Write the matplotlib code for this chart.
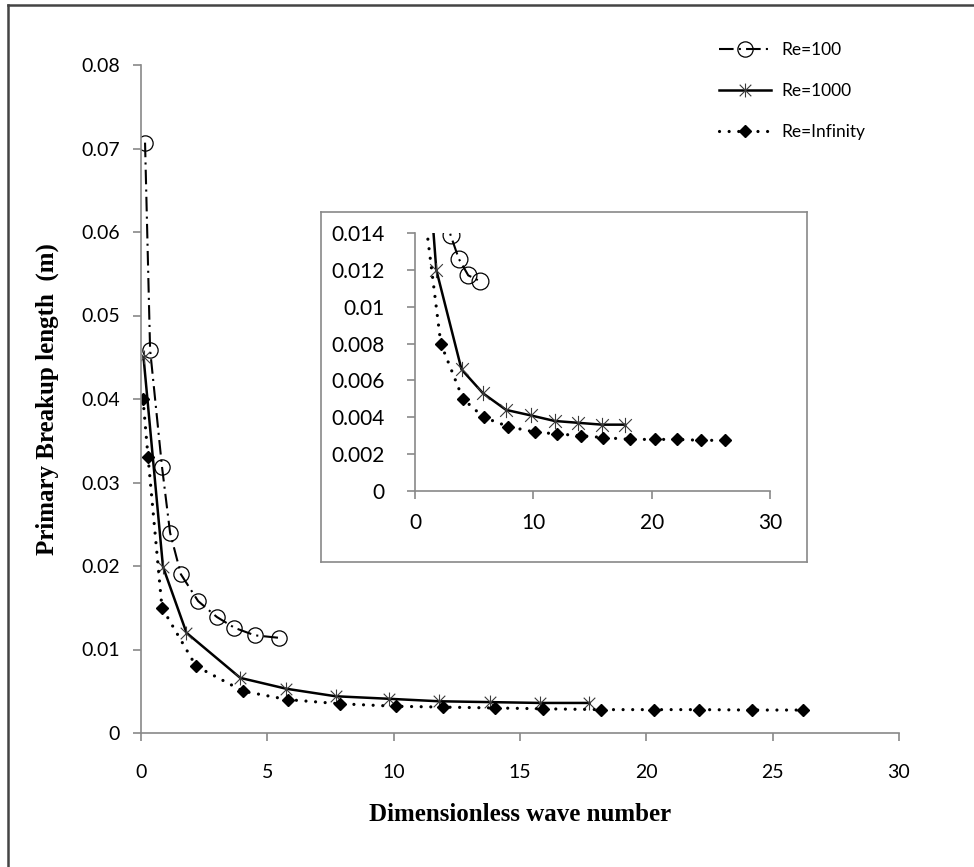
import matplotlib
matplotlib.use("Agg")
import numpy as np
import matplotlib.pyplot as plt
from matplotlib.path import Path
from matplotlib.lines import Line2D
from matplotlib.ticker import FuncFormatter

# ---- data ----
x_re100 = [0.16, 0.36, 0.83, 1.15, 1.58, 2.26, 3.0, 3.7, 4.5, 5.46]
y_re100 = [0.0707, 0.0459, 0.0319, 0.024, 0.019, 0.0158, 0.0139, 0.0126, 0.0117, 0.0114]

x_re1000 = [0.1, 0.87, 1.8, 3.93, 5.75, 7.7, 9.8, 11.8, 13.8, 15.8, 17.75]
y_re1000 = [0.045, 0.0199, 0.012, 0.0066, 0.0053, 0.0044, 0.0041, 0.0038, 0.0037, 0.0036, 0.0036]

x_inf = [0.08, 0.28, 0.83, 2.18, 4.05, 5.8, 7.87, 10.1, 11.97, 14.0, 15.9, 18.2, 20.3, 22.1, 24.2, 26.2]
y_inf = [0.040, 0.033, 0.015, 0.008, 0.005, 0.004, 0.0035, 0.0032, 0.0031, 0.003, 0.0029,
         0.0028, 0.0028, 0.0028, 0.00275, 0.00275]

labels = ["Re=100", "Re=1000", "Re=Infinity"]
main_yticks = np.arange(0, 0.0801, 0.01)
inset_yticks = np.arange(0, 0.01401, 0.002)
xticks = np.arange(0, 31, 5)
inset_xticks = np.arange(0, 31, 10)

GRAY = "#898989"
TICK_FONT = "Lato"
TITLE_FONT = "Liberation Serif"

# excel-like star: X plus vertical bar
star = Path([(-1, -1), (1, 1), (-1, 1), (1, -1), (0, -1.2), (0, 1.2)],
            [Path.MOVETO, Path.LINETO, Path.MOVETO, Path.LINETO, Path.MOVETO, Path.LINETO])

fmt = FuncFormatter(lambda v, p: "%g" % round(v, 4))


def style_axes(ax, size, xpad, ypad):
    for s in ["top", "right"]:
        ax.spines[s].set_visible(False)
    for s in ["left", "bottom"]:
        ax.spines[s].set_color(GRAY)
        ax.spines[s].set_linewidth(1.2)
    ax.tick_params(direction="out", length=6, width=1.2, color=GRAY,
                   labelsize=size, labelcolor="black")
    ax.tick_params(axis="x", pad=xpad)
    ax.tick_params(axis="y", pad=ypad)
    for lab in ax.get_xticklabels() + ax.get_yticklabels():
        lab.set_fontfamily(TICK_FONT)
    ax.yaxis.set_major_formatter(fmt)


def draw_series(ax, ms_scale=1.0, dot_lw=2.3):
    ax.plot(x_re100, y_re100, color="black", lw=1.5, dashes=(7, 2.5, 1, 2.5),
            marker="o", ms=11 * ms_scale, mfc="none", mec="black", mew=0.9,
            label=labels[0])
    ax.plot(x_re1000, y_re1000, color="black", lw=1.8, marker=star,
            ms=10 * ms_scale, mec="#3a3a3a", mew=0.8, label=labels[1])
    ax.plot(x_inf, y_inf, color="black", lw=dot_lw, dashes=(0.01, 3.0),
            dash_capstyle="round", marker="D", ms=6 * ms_scale, mfc="black",
            mec="black", label=labels[2])


fig = plt.figure(figsize=(9.74, 8.67), dpi=100)
fig.patch.set_facecolor("white")

# outer frame (only top/left visible in the picture)
fig.add_artist(Line2D([8 / 974, 8 / 974], [0, 1 - 5 / 867], color="#444444", lw=1.8))
fig.add_artist(Line2D([8 / 974, 1], [1 - 5 / 867, 1 - 5 / 867], color="#444444", lw=1.8))

# ---- main chart ----
ax = fig.add_axes([141 / 974, 134 / 867, 758 / 974, 668 / 867])
draw_series(ax)
ax.set_xlim(0, 30)
ax.set_ylim(0, 0.08)
ax.set_xticks(xticks)
ax.set_yticks(main_yticks)
style_axes(ax, 14, 16, 9)
ax.set_xlabel("Dimensionless wave number", fontfamily=TITLE_FONT, fontweight="bold",
              fontsize=18, labelpad=16)
ax.set_ylabel("Primary Breakup length  (m)", fontfamily=TITLE_FONT, fontweight="bold",
              fontsize=18, labelpad=16)

leg = ax.legend(loc="upper left", bbox_to_anchor=(703 / 974, 1 - 26 / 867),
                bbox_transform=fig.transFigure, frameon=False, handlelength=3.0,
                handletextpad=0.6, labelspacing=1.45, prop={"family": TICK_FONT, "size": 12.5})

# ---- inset ----
frame = fig.add_axes([321 / 974, 305 / 867, 486 / 974, 350 / 867])
frame.set_xticks([])
frame.set_yticks([])
for s in frame.spines.values():
    s.set_color(GRAY)
    s.set_linewidth(1.2)

ins = fig.add_axes([415 / 974, 376 / 867, 355 / 974, 258 / 867])
draw_series(ins, ms_scale=1.1, dot_lw=2.3)
ins.set_xlim(0, 30)
ins.set_ylim(0, 0.014)
ins.set_xticks(inset_xticks)
ins.set_yticks(inset_yticks)
style_axes(ins, 15, 10, 16)
ins.patch.set_alpha(0)

fig.savefig("out.png", dpi=100, facecolor="white")
